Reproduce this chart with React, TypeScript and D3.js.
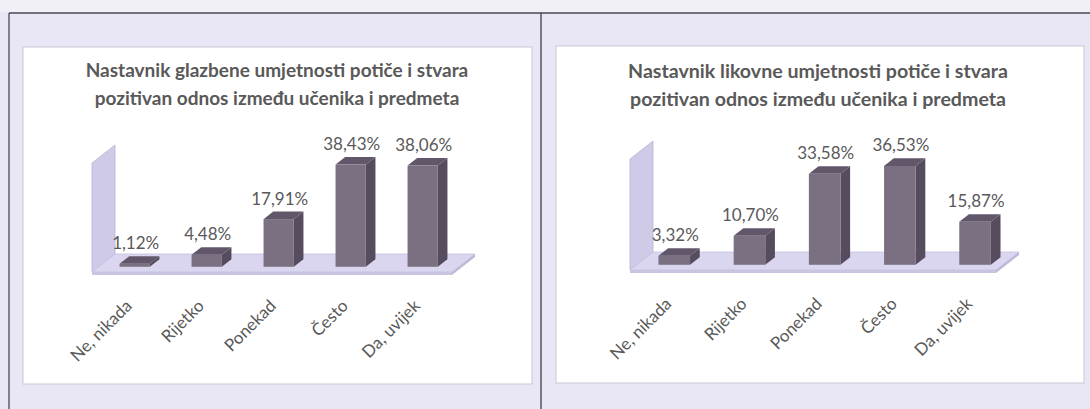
import React from "react";
import * as d3 from "d3";

const categories = ["Ne, nikada", "Rijetko", "Ponekad", "Često", "Da, uvijek"];
const musicValues = [1.12, 4.48, 17.91, 38.43, 38.06];
const artValues = [3.32, 10.7, 33.58, 36.53, 15.87];
const musicTitle = ["Nastavnik glazbene umjetnosti potiče i stvara", "pozitivan odnos između učenika i predmeta"];
const artTitle = ["Nastavnik likovne umjetnosti potiče i stvara", "pozitivan odnos između učenika i predmeta"];
const axisMax = 41;

const fmt = (v: number) => v.toFixed(2).replace(".", ",") + "%";

type Geo = {
  panel: [number, number, number, number];
  titleX: number;
  titleY: number;
  titleSize: number;
  ox: number;
  oy: number;
  plotW: number;
  floorExtra: number;
  wallH: number;
  ddx: number;
  ddy: number;
};

const leftGeo: Geo = { panel: [23, 47, 532, 384], titleX: 277, titleY: 77, titleSize: 19, ox: 92, oy: 272, plotW: 360, floorExtra: 0, wallH: 109, ddx: 23, ddy: 18 };
const rightGeo: Geo = { panel: [556, 46, 1084, 383], titleX: 818, titleY: 78, titleSize: 19.6, ox: 630, oy: 270, plotW: 376, floorExtra: -10, wallH: 111, ddx: 23, ddy: 18 };

const FONT = "Lato, 'Open Sans', sans-serif";
const TXT = "#595959";

function Chart({ geo, values, title }: { geo: Geo; values: number[]; title: string[] }) {
  const x = d3.scaleBand<string>().domain(categories).range([0, geo.plotW]).padding(0);
  const y = d3.scaleLinear().domain([0, axisMax]).range([0, geo.wallH]);
  const { ox, oy, ddx, ddy } = geo;
  const z0 = 0.29, z1 = 0.71;
  const bdx = (z1 - z0) * ddx, bdy = (z1 - z0) * ddy;
  const pts = (a: number[][]) => a.map((p) => p.join(",")).join(" ");
  const [px0, py0, px1, py1] = geo.panel;
  const th = 3;
  const fw = geo.plotW + geo.floorExtra;
  return (
    <g>
      <rect x={px0} y={py0} width={px1 - px0} height={py1 - py0} fill="#ffffff" stroke="#c9c7d3" strokeWidth={1} />
      {title.map((t, i) => (
        <text key={i} x={geo.titleX} y={geo.titleY + i * 28} textAnchor="middle" fontFamily={FONT} fontWeight={700} fontSize={geo.titleSize} fill={TXT}>
          {t}
        </text>
      ))}
      <polygon points={pts([[ox, oy], [ox, oy - y(axisMax)], [ox + ddx, oy - ddy - y(axisMax)], [ox + ddx, oy - ddy]])} fill="#cfcae7" stroke="#b9b3d6" strokeWidth={0.8} />
      <polygon points={pts([[ox, oy], [ox + fw, oy], [ox + fw + ddx, oy - ddy], [ox + ddx, oy - ddy]])} fill="#dad6ef" stroke="#c4bfdd" strokeWidth={0.8} />
      <polygon points={pts([[ox, oy], [ox + fw, oy], [ox + fw, oy + th], [ox, oy + th]])} fill="#c9c4e0" />
      <polygon points={pts([[ox + fw, oy], [ox + fw + ddx, oy - ddy], [ox + fw + ddx, oy - ddy + th], [ox + fw, oy + th]])} fill="#bfb9d9" />
      {values.map((v, i) => {
        const c = categories[i];
        const bw = x.bandwidth() * 0.42;
        const fx = ox + (x(c) as number) + x.bandwidth() / 2 - bw / 2 + z0 * ddx;
        const by = oy - z0 * ddy;
        const h = y(v);
        const top = by - h;
        return (
          <g key={c}>
            <polygon points={pts([[fx + bw, by], [fx + bw, top], [fx + bw + bdx, top - bdy], [fx + bw + bdx, by - bdy]])} fill="#564c5d" />
            <rect x={fx} y={top} width={bw} height={h} fill="#7b6f82" />
            <polygon points={pts([[fx, top], [fx + bw, top], [fx + bw + bdx, top - bdy], [fx + bdx, top - bdy]])} fill="#62576a" />
            <text x={fx + bw / 2 + 1} y={top - bdy - 7} textAnchor="middle" fontFamily={FONT} fontSize={17} fill={TXT}>
              {fmt(v)}
            </text>
          </g>
        );
      })}
      {categories.map((c) => {
        const ax = ox + (x(c) as number) + x.bandwidth() / 2 + 5;
        const ay = oy + 35;
        return (
          <text key={c} x={ax} y={ay} textAnchor="end" transform={`rotate(-45 ${ax} ${ay})`} fontFamily={FONT} fontSize={17} fill={TXT}>
            {c}
          </text>
        );
      })}
    </g>
  );
}

export default function App() {
  return (
    <div style={{ position: "fixed", left: 0, top: 0 }}>
      <svg width={1090} height={409} style={{ display: "block" }}>
        <rect x={0} y={0} width={1090} height={409} fill="#e9e6f5" />
        <rect x={0} y={0} width={1090} height={12} fill="#f1f0f7" />
        <line x1={9} y1={13} x2={1090} y2={13} stroke="#4a4a55" strokeWidth={1.3} />
        <line x1={9} y1={13} x2={9} y2={409} stroke="#4a4a55" strokeWidth={1.3} />
        <line x1={541} y1={13} x2={541} y2={409} stroke="#3f3f4a" strokeWidth={1.3} />
        <Chart geo={leftGeo} values={musicValues} title={musicTitle} />
        <Chart geo={rightGeo} values={artValues} title={artTitle} />
      </svg>
    </div>
  );
}
